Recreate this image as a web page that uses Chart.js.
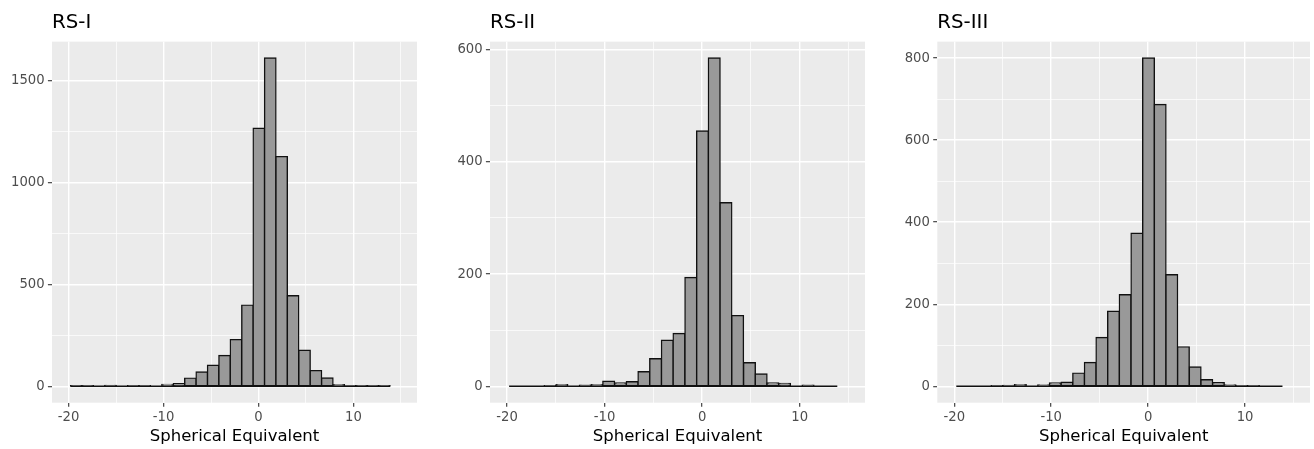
<!DOCTYPE html>
<html>
<head>
<meta charset="utf-8">
<title>Spherical Equivalent by study</title>
<script src="https://cdn.jsdelivr.net/npm/chart.js@4.4.0/dist/chart.umd.min.js"></script>
<style>
  html, body { margin: 0; padding: 0; background: #ffffff; }
  #wrap { position: relative; width: 1314px; height: 449px; overflow: hidden; }
  #wrap canvas { position: absolute; top: 0; }
</style>
</head>
<body>
<div id="wrap">
  <canvas id="chart-rs1" width="430" height="449" style="left:0px"></canvas>
  <canvas id="chart-rs2" width="438" height="449" style="left:440px"></canvas>
  <canvas id="chart-rs3" width="434" height="449" style="left:880px"></canvas>
</div>
<script>
// Histogram bins (centres, dioptres) shared by the three cohorts
const binCenters = [-19.19, -17.99, -16.79, -15.59, -14.38, -13.18, -11.98, -10.78, -9.58, -8.37,
  -7.17, -5.97, -4.77, -3.57, -2.37, -1.16, 0.04, 1.24, 2.44, 3.64,
  4.85, 6.05, 7.25, 8.45, 9.65, 10.86, 12.06, 13.26];

// Counts per bin
const rs1Counts = [1, 1, 0, 4, 0, 2, 2, 0, 9, 13, 40, 70, 103, 151, 229, 398, 1265, 1609, 1126, 444, 177, 77, 41, 8, 2, 1, 1, 1];
const rs2Counts = [0, 0, 0, 1, 3, 0, 2, 3, 9, 6, 8, 26, 49, 82, 94, 194, 455, 585, 327, 126, 42, 22, 6, 5, 0, 2, 0, 0];
const rs3Counts = [0, 0, 0, 1, 2, 4, 0, 3, 8, 10, 32, 58, 119, 183, 223, 373, 800, 687, 272, 96, 47, 16, 9, 3, 1, 1, 0, 0];

// Tick values
const xMajorTicks = [-20, -10, 0, 10];
const xMinorTicks = [-15, -5, 5, 15];
const rs1MajorTicks = [0, 500, 1000, 1500];
const rs1MinorTicks = [250, 750, 1250];
const rs2MajorTicks = [0, 200, 400, 600];
const rs2MinorTicks = [100, 300, 500];
const rs3MajorTicks = [0, 200, 400, 600, 800];
const rs3MinorTicks = [100, 300, 500, 700];

const X_MIN = -21.75;
const X_MAX = 16.7;
const FONT = 'DejaVu Sans';
const OUTLINE = 1.4;

// ggplot-like grey panel behind the grid
const panelBackground = {
  id: 'panelBackground',
  beforeDraw(chart) {
    const { ctx, chartArea: a } = chart;
    ctx.save();
    ctx.fillStyle = '#EBEBEB';
    ctx.fillRect(a.left, a.top, a.right - a.left, a.bottom - a.top);
    ctx.restore();
  }
};

function gridScale(major, minor) {
  const all = [...major, ...minor].sort((a, b) => a - b);
  const isMajor = (ctx) => ctx.tick && major.includes(ctx.tick.value);
  return {
    afterBuildTicks: (scale) => { scale.ticks = all.map(v => ({ value: v })); },
    ticks: {
      autoSkip: false,
      color: '#4D4D4D',
      font: { family: FONT, size: 13.2 },
      padding: 3.3,
      callback: (value) => major.includes(value) ? String(value) : ''
    },
    grid: {
      offset: false,
      color: '#FFFFFF',
      lineWidth: (ctx) => isMajor(ctx) ? 1.4 : 0.7,
      tickLength: 4.1,
      tickWidth: 1.1,
      tickColor: (ctx) => isMajor(ctx) ? '#333333' : 'rgba(0,0,0,0)'
    },
    border: { display: false }
  };
}

function renderHistogram(canvasId, title, counts, yMajor, yMinor, yWidth, padRight) {
  const ctx = document.getElementById(canvasId).getContext('2d');
  const peak = Math.max(...counts);
  const half = (binCenters[1] - binCenters[0]) / 2;
  const last = binCenters.length - 1;

  const xScale = gridScale(xMajorTicks, xMinorTicks);
  const yScale = gridScale(yMajor, yMinor);

  return new Chart(ctx, {
    type: 'bar',
    data: {
      datasets: [
        {
          type: 'bar',
          data: binCenters.map((x, i) => ({ x, y: counts[i] })),
          backgroundColor: '#999999',
          borderColor: '#111111',
          borderWidth: OUTLINE,
          borderSkipped: false,
          inflateAmount: OUTLINE / 2,
          barPercentage: 1,
          categoryPercentage: 1,
          order: 1
        },
        {
          // outline of the empty bins along the baseline, drawn over the bars
          type: 'line',
          data: [{ x: binCenters[0] - half, y: 0 }, { x: binCenters[last] + half, y: 0 }],
          borderColor: '#111111',
          borderWidth: OUTLINE,
          pointRadius: 0,
          order: 0
        }
      ]
    },
    options: {
      responsive: false,
      animation: false,
      layout: { padding: { left: 0, right: padRight, top: 0, bottom: 0 } },
      plugins: {
        legend: { display: false },
        tooltip: { enabled: false },
        title: {
          display: true,
          text: title,
          align: 'start',
          fullSize: false,
          color: '#000000',
          font: { family: FONT, size: 19.8, weight: 'normal' },
          padding: { top: 11.1, bottom: 6.8 }
        }
      },
      scales: {
        x: {
          ...xScale,
          type: 'linear',
          offset: false,
          min: X_MIN,
          max: X_MAX,
          afterFit: (scale) => { scale.height = 46.3; },
          title: {
            display: true,
            text: 'Spherical Equivalent',
            color: '#000000',
            font: { family: FONT, size: 16.5 },
            padding: { top: 4, bottom: 2.5 }
          }
        },
        y: {
          ...yScale,
          type: 'linear',
          min: -0.05 * peak,
          max: 1.05 * peak,
          afterFit: (scale) => { scale.width = yWidth; }
        }
      }
    },
    plugins: [panelBackground]
  });
}

renderHistogram('chart-rs1', 'RS-I', rs1Counts, rs1MajorTicks, rs1MinorTicks, 52, 13);
renderHistogram('chart-rs2', 'RS-II', rs2Counts, rs2MajorTicks, rs2MinorTicks, 50, 13);
renderHistogram('chart-rs3', 'RS-III', rs3Counts, rs3MajorTicks, rs3MinorTicks, 57.3, 4);
</script>
</body>
</html>
